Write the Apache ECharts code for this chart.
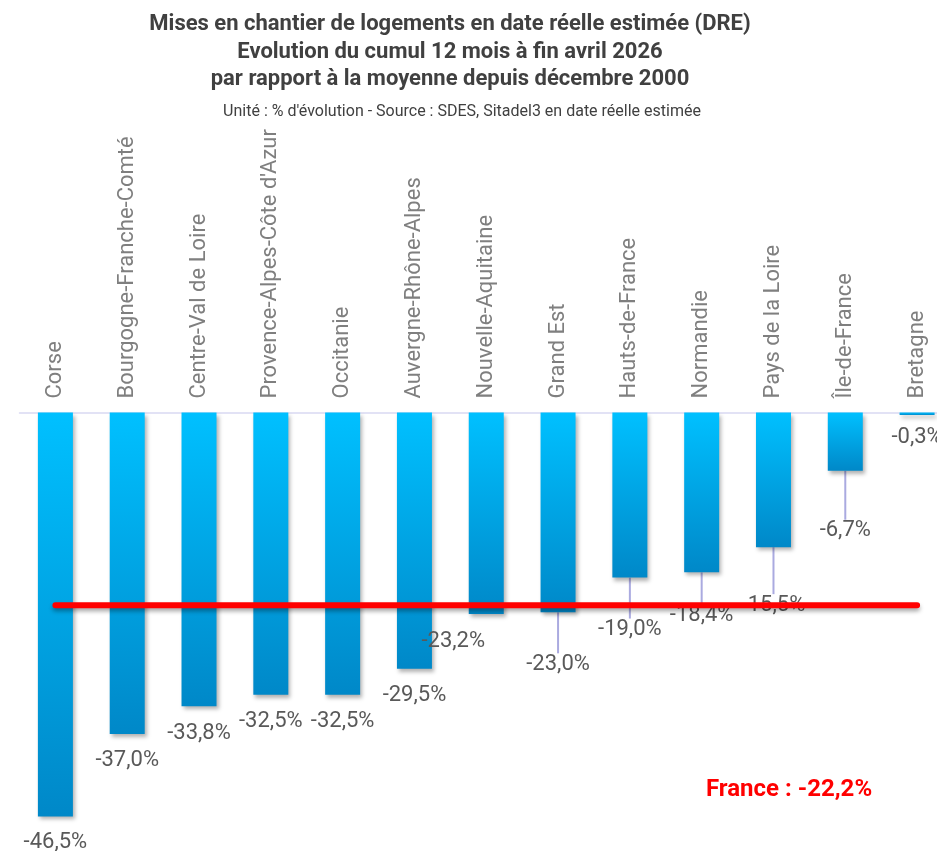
<!DOCTYPE html>
<html>
<head>
<meta charset="utf-8">
<script src="https://cdn.jsdelivr.net/npm/echarts@6/dist/echarts.min.js"></script>
<style>
html, body { margin: 0; padding: 0; background: #fff; }
#chart { width: 937px; height: 851px; }
</style>
</head>
<body>
<div id="chart"></div>
<script>
const regions = ['Corse', 'Bourgogne-Franche-Comté', 'Centre-Val de Loire', "Provence-Alpes-Côte d'Azur",
    'Occitanie', 'Auvergne-Rhône-Alpes', 'Nouvelle-Aquitaine', 'Grand Est', 'Hauts-de-France',
    'Normandie', 'Pays de la Loire', 'Île-de-France', 'Bretagne'];
const evolution = [-46.5, -37.0, -33.8, -32.5, -32.5, -29.5, -23.2, -23.0, -19.0, -18.4, -15.5, -6.7, -0.3];
const france = -22.2;
// labels moved off their bar (as in the original), with a guide line for some
const labelShift = {
    0: { dx: 0, dy: -1 },
    6: { dx: -33, dy: 0 },
    7: { dx: 0, dy: 25, line: true },
    8: { dx: 0, dy: 25, line: true },
    9: { dx: 0, dy: 16, line: true },
    10: { dx: 0, dy: 31, line: true },
    11: { dx: 0, dy: 33, line: true },
    12: { dx: 0, dy: -5 },
};

const fmt = v => v.toFixed(1).replace('.', ',') + '%';

const chart = echarts.init(document.getElementById('chart'));

const barData = evolution.map((v, i) => {
    const s = labelShift[i];
    return {
        value: v,
        labelLine: { show: !!(s && s.line) },
    };
});

chart.setOption({
    animation: false,
    title: [{
        text: 'Mises en chantier de logements en date réelle estimée (DRE)\nEvolution du cumul 12 mois à fin avril 2026\npar rapport à la moyenne depuis décembre 2000',
        left: 445,
        top: 6,
        textAlign: 'center',
        textStyle: {
            fontFamily: 'Roboto',
            fontWeight: 'bold',
            fontSize: 22,
            lineHeight: 27.5,
            color: '#404040',
        },
    }, {
        text: "Unité : % d'évolution - Source : SDES, Sitadel3 en date réelle estimée",
        left: 457,
        top: 99,
        textAlign: 'center',
        textStyle: {
            fontFamily: 'Roboto',
            fontWeight: 'normal',
            fontSize: 16,
            color: '#404040',
        },
    }],
    grid: {
        left: 19.5,
        top: 412.5,
        width: 933.5,
        height: 417,
        outerBoundsMode: 'none',
        containLabel: false,
    },
    xAxis: {
        type: 'category',
        position: 'top',
        data: regions,
        axisLine: { show: true, lineStyle: { color: '#d9d9f2', width: 1.5 } },
        axisTick: { show: false },
        axisLabel: {
            interval: 0,
            rotate: 90,
            margin: 14,
            fontFamily: 'Roboto',
            fontSize: 22,
            color: '#7f7f7f',
        },
    },
    yAxis: {
        type: 'value',
        min: -48,
        max: 0,
        show: false,
        splitLine: { show: false },
    },
    series: [{
        type: 'bar',
        data: barData,
        barWidth: 35,
        itemStyle: {
            color: new echarts.graphic.LinearGradient(0, 0, 0, 1, [
                { offset: 0, color: '#00c0ff' },
                { offset: 1, color: '#0088c8' },
            ]),
            shadowColor: 'rgba(0,0,0,0.3)',
            shadowBlur: 4,
            shadowOffsetX: 2,
            shadowOffsetY: 3,
        },
        label: {
            show: true,
            position: 'bottom',
            distance: 16,
            fontFamily: 'Roboto',
            fontSize: 22,
            color: '#595959',
            formatter: p => fmt(p.value),
        },
        labelLine: {
            lineStyle: { color: '#aaaae0', width: 2 },
        },
        labelLayout: p => {
            const s = labelShift[p.dataIndex];
            return s ? { dx: s.dx, dy: s.dy } : {};
        },
        z: 2,
    }, {
        type: 'line',
        data: regions.map(() => france),
        symbol: 'none',
        lineStyle: {
            color: '#ff0000',
            width: 6,
            cap: 'round',
            shadowColor: 'rgba(0,0,0,0.35)',
            shadowBlur: 4,
            shadowOffsetY: 3,
        },
        z: 5,
    }],
    graphic: [{
        type: 'text',
        left: 706,
        top: 778,
        style: {
            text: 'France : ' + fmt(france),
            font: 'bold 24px Roboto',
            fill: '#ff0000',
        },
    }],
});
</script>
</body>
</html>
